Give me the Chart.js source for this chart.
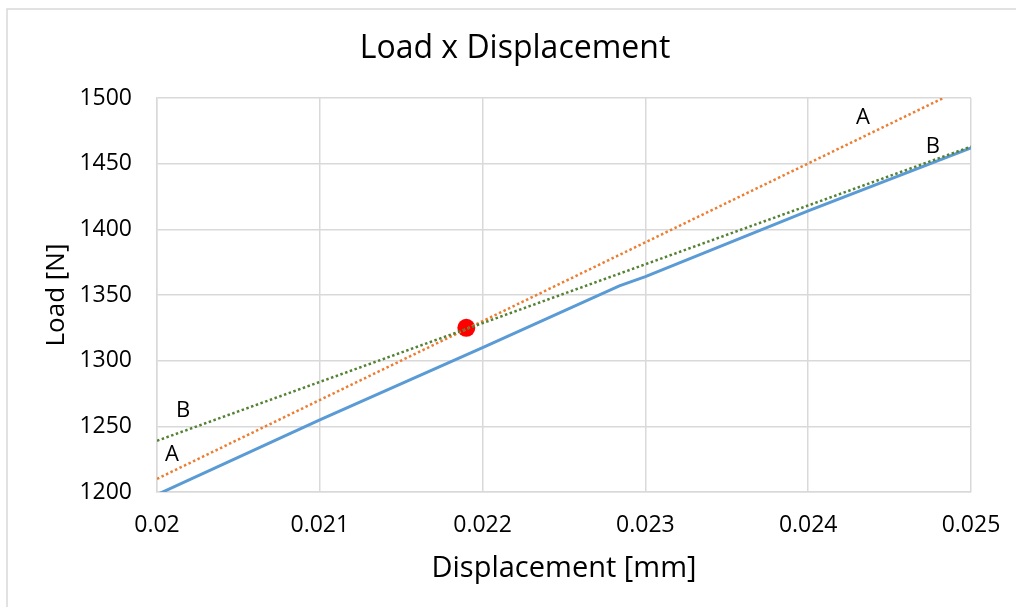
<!DOCTYPE html>
<html>
<head>
<meta charset="utf-8">
<script src="https://cdn.jsdelivr.net/npm/chart.js@4"></script>
<style>
  body { margin: 0; background: #fff; }
  #wrap { width: 1016px; height: 607px; }
</style>
</head>
<body>
<div id="wrap"><canvas id="loadChart" width="1016" height="607"></canvas></div>
<script>
// measured curve
const dispMeasured = [0.020, 0.021, 0.022, 0.02284, 0.023, 0.024, 0.025];
const loadMeasured = [1198, 1255, 1310, 1357, 1364, 1414, 1462];

// tangent A
const dispA = [0.020, 0.02483];
const loadA = [1210, 1500];

// secant B
const dispB = [0.020, 0.025];
const loadB = [1239, 1463];

// intersection point
const dispPoint = [0.0219];
const loadPoint = [1325];

const xTicks = [0.02, 0.021, 0.022, 0.023, 0.024, 0.025];
const yTicks = [1200, 1250, 1300, 1350, 1400, 1450, 1500];

// letter labels next to the lines, in data units
const lineTags = [
    {text: 'A', x: 0.020092, y: 1228},
    {text: 'A', x: 0.024337, y: 1485},
    {text: 'B', x: 0.020160, y: 1262},
    {text: 'B', x: 0.024765, y: 1463}
];

const toPoints = (xs, ys) => xs.map((x, i) => ({x: x, y: ys[i]}));

const FONT = "'Open Sans', 'Noto Sans', sans-serif";

const frame = {
    id: 'frame',
    beforeDraw(chart) {
        const ctx = chart.ctx;
        ctx.save();
        ctx.fillStyle = '#fff';
        ctx.fillRect(0, 0, chart.width, chart.height);
        ctx.strokeStyle = '#d9d9d9';
        ctx.lineWidth = 1.5;
        ctx.strokeRect(7, 9, chart.width + 20, chart.height + 20);
        ctx.restore();
    }
};

const tags = {
    id: 'tags',
    afterDatasetsDraw(chart) {
        const ctx = chart.ctx;
        const xs = chart.scales.x, ys = chart.scales.y;
        ctx.save();
        ctx.font = '22px ' + FONT;
        ctx.fillStyle = '#000';
        ctx.textAlign = 'center';
        ctx.textBaseline = 'middle';
        lineTags.forEach(t => {
            ctx.fillText(t.text, xs.getPixelForValue(t.x), ys.getPixelForValue(t.y));
        });
        ctx.restore();
    }
};

new Chart(document.getElementById('loadChart'), {
    type: 'scatter',
    data: {
        datasets: [
            {
                label: 'B',
                data: toPoints(dispB, loadB),
                showLine: true,
                borderColor: '#548235',
                borderWidth: 2.5,
                borderDash: [2.5, 2.5],
                pointRadius: 0
            },
            {
                label: 'A',
                data: toPoints(dispA, loadA),
                showLine: true,
                borderColor: '#ed7d31',
                borderWidth: 2.5,
                borderDash: [2.5, 2.5],
                pointRadius: 0
            },
            {
                label: 'Point',
                data: toPoints(dispPoint, loadPoint),
                backgroundColor: '#ff0000',
                borderColor: '#ff0000',
                pointRadius: 9,
                borderWidth: 0
            },
            {
                label: 'Load',
                data: toPoints(dispMeasured, loadMeasured),
                showLine: true,
                borderColor: '#5b9bd5',
                borderWidth: 3,
                pointRadius: 0
            }
        ]
    },
    options: {
        responsive: false,
        animation: false,
        layout: {
            padding: {left: 14, right: 0, top: 0, bottom: 0}
        },
        plugins: {
            legend: {display: false},
            tooltip: {enabled: false},
            title: {
                display: true,
                text: 'Load x Displacement',
                color: '#000',
                font: {family: FONT, size: 32, weight: 'normal'},
                padding: {top: 30, bottom: 29.6}
            }
        },
        scales: {
            x: {
                type: 'linear',
                min: 0.02,
                max: 0.025,
                afterBuildTicks: axis => { axis.ticks = xTicks.map(v => ({value: v})); },
                afterFit: axis => {
                    axis.height = 115;
                    axis.paddingLeft = 0;
                    axis.paddingRight = 0;
                },
                ticks: {
                    color: '#000',
                    padding: 20,
                    font: {family: FONT, size: 23},
                    callback: v => String(v)
                },
                grid: {color: '#d9d9d9', lineWidth: 1.5, drawTicks: false},
                border: {color: '#d9d9d9', width: 1.5},
                title: {
                    display: true,
                    text: 'Displacement [mm]',
                    color: '#000',
                    font: {family: FONT, size: 29},
                    padding: {top: 0, bottom: 21}
                }
            },
            y: {
                min: 1200,
                max: 1500,
                afterBuildTicks: axis => { axis.ticks = yTicks.map(v => ({value: v})); },
                afterFit: axis => { axis.width = 143; },
                ticks: {
                    color: '#000',
                    padding: 25,
                    font: {family: FONT, size: 23},
                    callback: v => String(v)
                },
                grid: {color: '#d9d9d9', lineWidth: 1.5, drawTicks: false},
                border: {color: '#d9d9d9', width: 1.5},
                title: {
                    display: true,
                    text: 'Load [N]',
                    color: '#000',
                    font: {family: FONT, size: 26},
                    padding: {top: 27, bottom: 0}
                }
            },
            // empty right-hand axis that only reserves the margin
            yRight: {
                position: 'right',
                min: 1200,
                max: 1500,
                afterFit: axis => { axis.width = 45; },
                ticks: {display: false},
                grid: {drawOnChartArea: false, drawTicks: false},
                border: {display: false}
            }
        }
    },
    plugins: [frame, tags]
});
</script>
</body>
</html>
